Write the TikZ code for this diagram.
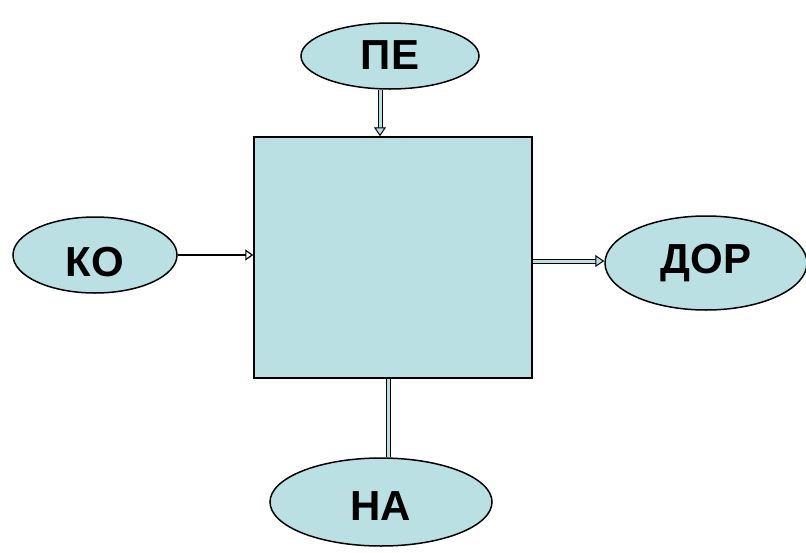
\documentclass[tikz,border=0pt]{standalone}
\usepackage{fontspec}
\setmainfont{Liberation Sans}
\usetikzlibrary{shapes.geometric,arrows.meta}
\definecolor{paleblue}{RGB}{186,224,228}

\begin{document}
\begin{tikzpicture}[x=1pt,y=-1pt,
  oval/.style={ellipse, draw, line width=1.5pt, fill=paleblue, inner sep=0pt,
    text height=30pt, text depth=0pt,
    font=\fontsize{42}{42}\selectfont\bfseries},
  hollow/.style={draw, line width=1pt, double=paleblue, double distance=3pt,
    -{Triangle[open, fill=paleblue, length=9pt, width=12pt]}},
  hollowplain/.style={draw, line width=1pt, double=paleblue, double distance=3pt}]
  \useasboundingbox (0,0) rectangle (806,552);
  \node [draw, line width=1.5pt, fill=paleblue, minimum width=278pt, minimum height=241pt]
    (box) at (393,257.5) {};
  \node [oval, minimum width=178pt, minimum height=66pt] (pe) at (390,56) {\raisebox{2pt}{ПЕ}};
  \node [oval, minimum width=164pt, minimum height=76pt] (ko) at (95,255) {\raisebox{-6pt}{КО}};
  \node [oval, minimum width=202pt, minimum height=94pt] (dor) at (706,263) {\raisebox{5pt}{ДОР}};
  \node [oval, minimum width=222pt, minimum height=88pt] (na) at (381,502) {\raisebox{-3pt}{НА}};
  % links
  \draw [hollow] (pe.south -| 380,0) -- (box.north -| 380,0);
  \draw [line width=2.5pt, -{Triangle[open, length=8pt, width=11pt, line width=1.2pt]}]
    (ko.east) -- (box.west |- ko.east);
  \draw [hollow] (box.east |- 0,261) -- (dor.west |- 0,261);
  \draw [hollowplain] (box.south -| 388,0) -- (na.north -| 388,0);
\end{tikzpicture}
\end{document}
